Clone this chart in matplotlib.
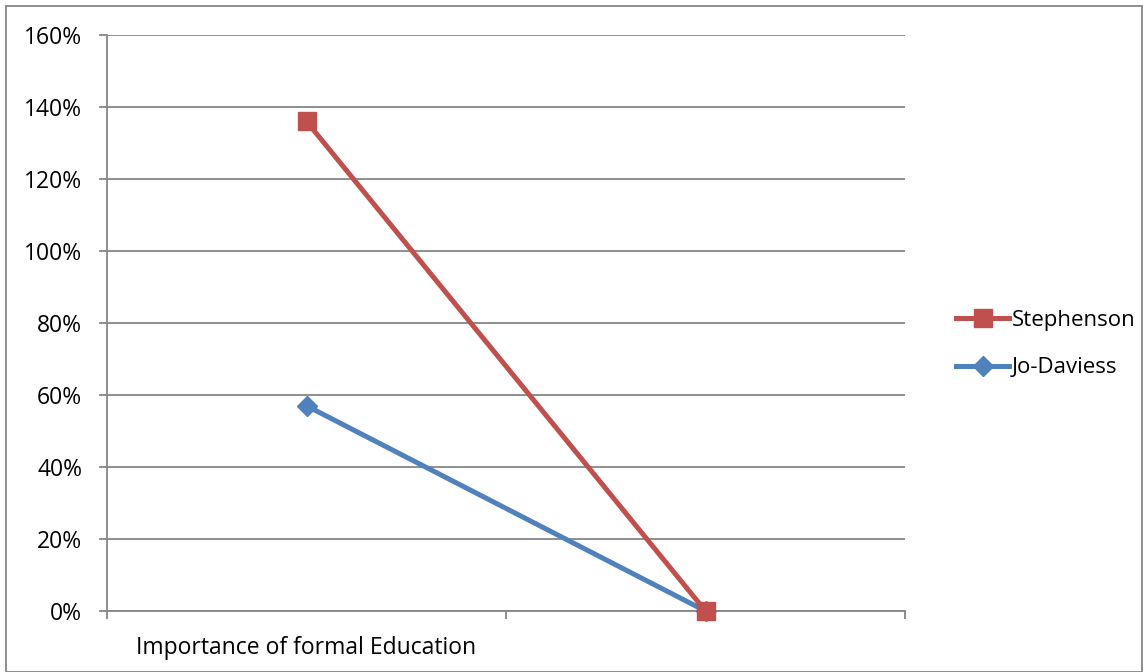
import matplotlib.pyplot as plt
from matplotlib.patches import Rectangle
from matplotlib.ticker import FuncFormatter

# Data
categories = ['Importance of formal Education', '']
stephenson = [1.36, 0.0]
jo_daviess = [0.57, 0.0]
y_ticks = [0, 0.2, 0.4, 0.6, 0.8, 1.0, 1.2, 1.4, 1.6]

grid_color = '#868686'
plt.rcParams['font.family'] = ['Open Sans', 'DejaVu Sans']

fig = plt.figure(figsize=(11.45, 6.72), dpi=100)
fig.patch.set_facecolor('white')
ax = fig.add_axes([107/1145, 1 - 611/672, (905 - 107)/1145, (611 - 35)/672])

x = [i + 0.5 for i in range(len(categories))]
ax.plot(x, jo_daviess, color='#4F81BD', lw=3.6, marker='D', markersize=10,
        label='Jo-Daviess', zorder=3, clip_on=False)
ax.plot(x, stephenson, color='#C0504D', lw=3.6, marker='s', markersize=13,
        label='Stephenson', zorder=4, clip_on=False)

ax.set_xlim(0, len(categories))
ax.set_ylim(0, 1.6)
ax.set_yticks(y_ticks)
ax.yaxis.set_major_formatter(FuncFormatter(lambda v, p: f'{v*100:.0f}%'))
ax.set_xticks(range(len(categories) + 1))
ax.set_xticklabels([])
ax.set_xticks(x, minor=True)
ax.set_xticklabels(categories, minor=True)
ax.tick_params(axis='x', which='minor', length=0, pad=18, labelsize=16.5)
ax.tick_params(axis='x', which='major', length=6, width=1.3, color=grid_color, direction='out')
ax.tick_params(axis='y', length=6, width=1.3, color=grid_color, direction='out', labelsize=16.5, pad=12)
ax.grid(axis='y', color=grid_color, lw=1.3)
ax.set_axisbelow(True)
for s in ['top', 'right']:
    ax.spines[s].set_visible(False)
for s in ['left', 'bottom']:
    ax.spines[s].set_color(grid_color)
    ax.spines[s].set_linewidth(1.3)

handles, labels = ax.get_legend_handles_labels()
fig.legend(handles[::-1], labels[::-1], loc='center left',
           bbox_to_anchor=(936/1145, 1 - 344/672), frameon=False, fontsize=16,
           handlelength=2.4, handletextpad=0.1, labelspacing=1.2)

# Outer chart border
fig.patches.append(Rectangle((6/1145, 0), 1136/1145, 1 - 6/672, transform=fig.transFigure,
                             fill=False, edgecolor=grid_color, lw=1.3))

fig.savefig('out.png', dpi=100, facecolor='white')
